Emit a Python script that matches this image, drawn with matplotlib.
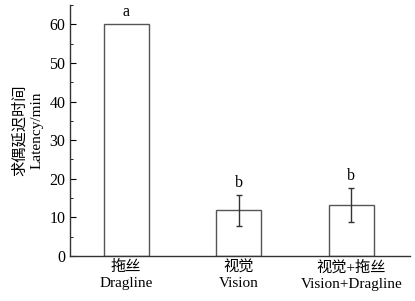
import matplotlib
matplotlib.use("Agg")
import matplotlib.pyplot as plt
from matplotlib.ticker import MultipleLocator

categories = ["拖丝\nDragline", "视觉\nVision", "视觉+拖丝\nVision+Dragline"]
values = [60.0, 11.8, 13.2]
errors = [0.0, 4.0, 4.4]
letters = ["a", "b", "b"]

plt.rcParams['font.family'] = ['Liberation Serif', 'Noto Sans CJK SC']
fig = plt.figure(figsize=(4.15, 3.01), dpi=100)
ax = fig.add_axes([0.168, 0.1495, 0.82, 0.834])

x = range(len(categories))
ax.bar(x, values, width=0.4, color='white', edgecolor='#555555', linewidth=1.0)
for i, (v, e) in enumerate(zip(values, errors)):
    if e > 0:
        ax.errorbar(i, v, yerr=e, fmt='none', ecolor='#333333', elinewidth=1.0, capsize=2.5, capthick=1.0)
    ax.text(i, v + e + 1.0, letters[i], ha='center', va='bottom', fontsize=11.5)

ax.set_xlim(-0.5, 2.52)
ax.set_ylim(0, 65)
ax.set_xticks(list(x))
ax.set_xticklabels(categories, fontsize=11, linespacing=1.3)
ax.tick_params(axis='x', length=0, pad=3)
ax.yaxis.set_major_locator(MultipleLocator(10))
ax.yaxis.set_minor_locator(MultipleLocator(5))
ax.tick_params(axis='y', which='major', direction='in', length=4, labelsize=11.5, pad=3)
ax.tick_params(axis='y', which='minor', direction='in', length=2.5)
for s in ['top', 'right']:
    ax.spines[s].set_visible(False)
for s in ['left', 'bottom']:
    ax.spines[s].set_color('#333333')
    ax.spines[s].set_linewidth(1.0)
ax.set_ylabel("求偶延迟时间\nLatency/min", fontsize=11, labelpad=4, linespacing=1.4)

fig.savefig("out.png", dpi=100)
